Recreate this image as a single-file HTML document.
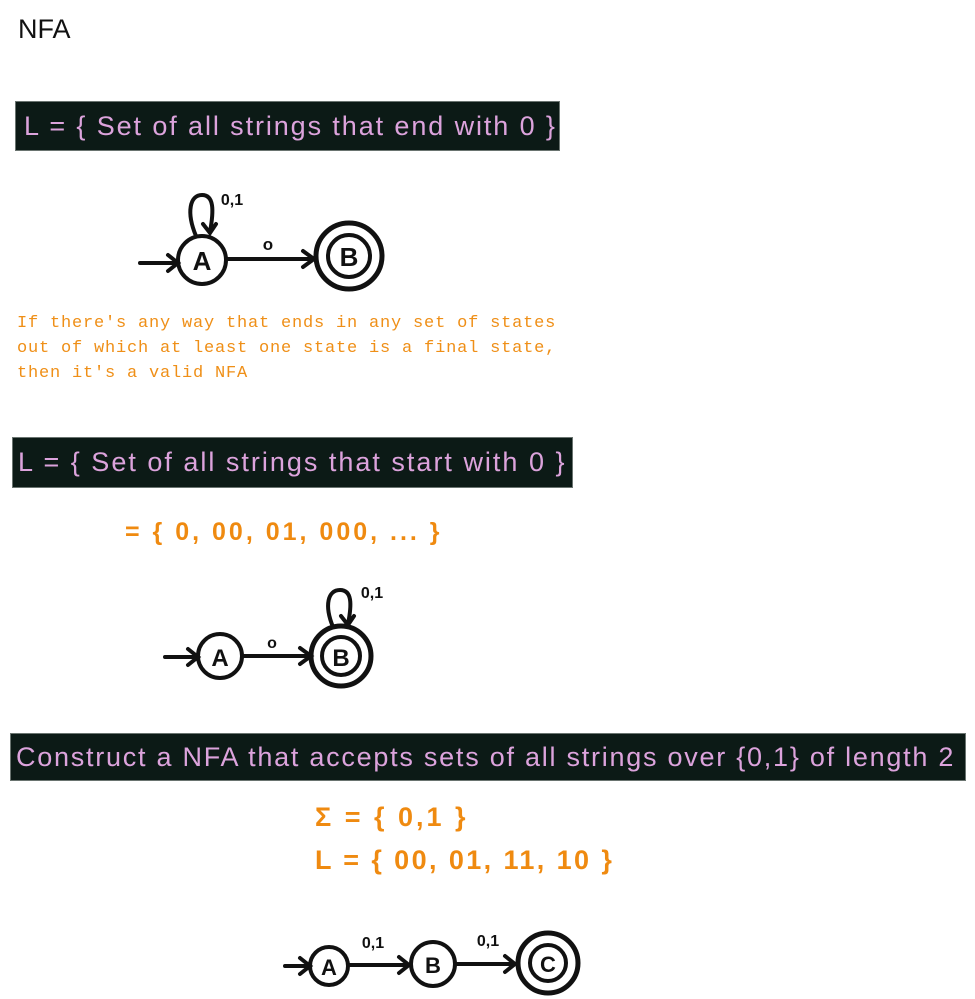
<!DOCTYPE html>
<html><head><meta charset="utf-8"><style>
body{margin:0;width:975px;height:999px;background:#fff;position:relative;overflow:hidden;font-family:"Liberation Sans",sans-serif}
.ban{position:absolute;background:#0c1a16;color:#dca3dc;font-size:27px;line-height:1;white-space:nowrap;box-sizing:border-box;padding-left:8px;display:flex;align-items:center;border:1px solid #6a7470}
.note{position:absolute;left:17px;top:311px;font-family:"Liberation Mono",monospace;font-size:17px;line-height:25px;color:#ef8f17;white-space:pre;letter-spacing:0.8px}
.hand{position:absolute;color:#ef8a10;font-weight:bold;font-size:27px;white-space:pre;font-family:"Liberation Sans",sans-serif}
svg{position:absolute;left:0;top:0}
</style></head><body>
<div style="position:absolute;left:18px;top:14px;font-size:27px;color:#111">NFA</div>
<div class="ban" style="left:15px;top:101px;width:545px;height:50px;letter-spacing:1.9px">L = { Set of all strings that end with 0 }</div>
<div class="note">If there's any way that ends in any set of states
out of which at least one state is a final state,
then it's a valid NFA</div>
<div class="ban" style="left:12px;top:437px;width:561px;height:51px;letter-spacing:2px;padding-left:5px">L = { Set of all strings that start with 0 }</div>
<div class="hand" style="left:125px;top:518px;font-size:25px;letter-spacing:3px">= { 0, 00, 01, 000, ... }</div>
<div class="ban" style="left:10px;top:733px;width:956px;height:48px;font-size:27px;padding-left:5px;letter-spacing:1.75px">Construct a NFA that accepts sets of all strings over {0,1} of length 2</div>
<div class="hand" style="left:315px;top:802px;letter-spacing:3px">Σ = { 0,1 }</div>
<div class="hand" style="left:315px;top:845px;letter-spacing:2.4px">L = { 00, 01, 11, 10 }</div>
<svg width="975" height="999" fill="none" stroke="#111" stroke-width="4" stroke-linecap="round" font-family="Liberation Sans, sans-serif" font-weight="bold">
<g>
<path d="M140 263H176M168 255L178 263L168 271"/>
<circle cx="202" cy="260" r="24"/>
<path d="M196 236C186 212 190 195 202 195C214 195 214 210 210 232M203 224L210 233L216 224"/>
<path d="M226 259H313M303 251L314 259L303 267"/>
<circle cx="349" cy="256" r="33" stroke-width="5"/><circle cx="349" cy="256" r="21"/>
<text x="202" y="270" font-size="26" fill="#111" stroke="none" text-anchor="middle">A</text>
<text x="349" y="266" font-size="26" fill="#111" stroke="none" text-anchor="middle">B</text>
<text x="268" y="250" font-size="17" fill="#111" stroke="none" text-anchor="middle">o</text>
<text x="232" y="205" font-size="16" fill="#111" stroke="none" text-anchor="middle">0,1</text>
</g>
<g>
<path d="M165 657H196M188 649L198 657L188 665"/>
<circle cx="220" cy="656" r="22"/>
<path d="M242 656H310M300 648L311 656L300 664"/>
<circle cx="341" cy="656" r="30" stroke-width="5"/><circle cx="341" cy="656" r="19"/>
<path d="M333 627C324 605 328 590 340 590C352 590 352 604 348 624M341 616L348 625L354 616"/>
<text x="220" y="666" font-size="24" fill="#111" stroke="none" text-anchor="middle">A</text>
<text x="341" y="666" font-size="24" fill="#111" stroke="none" text-anchor="middle">B</text>
<text x="272" y="648" font-size="16" fill="#111" stroke="none" text-anchor="middle">o</text>
<text x="372" y="598" font-size="16" fill="#111" stroke="none" text-anchor="middle">0,1</text>
</g>
<g>
<path d="M285 966H308M300 958L310 966L300 974"/>
<circle cx="329" cy="966" r="19"/>
<path d="M348 965H408M399 957L409 965L399 973"/>
<circle cx="433" cy="964" r="22"/>
<path d="M455 964H514M505 956L515 964L505 972"/>
<circle cx="548" cy="963" r="30" stroke-width="5"/><circle cx="548" cy="963" r="18"/>
<text x="329" y="975" font-size="22" fill="#111" stroke="none" text-anchor="middle">A</text>
<text x="433" y="973" font-size="22" fill="#111" stroke="none" text-anchor="middle">B</text>
<text x="548" y="972" font-size="22" fill="#111" stroke="none" text-anchor="middle">C</text>
<text x="373" y="948" font-size="16" fill="#111" stroke="none" text-anchor="middle">0,1</text>
<text x="488" y="946" font-size="16" fill="#111" stroke="none" text-anchor="middle">0,1</text>
</g>
</svg>
</body></html>
